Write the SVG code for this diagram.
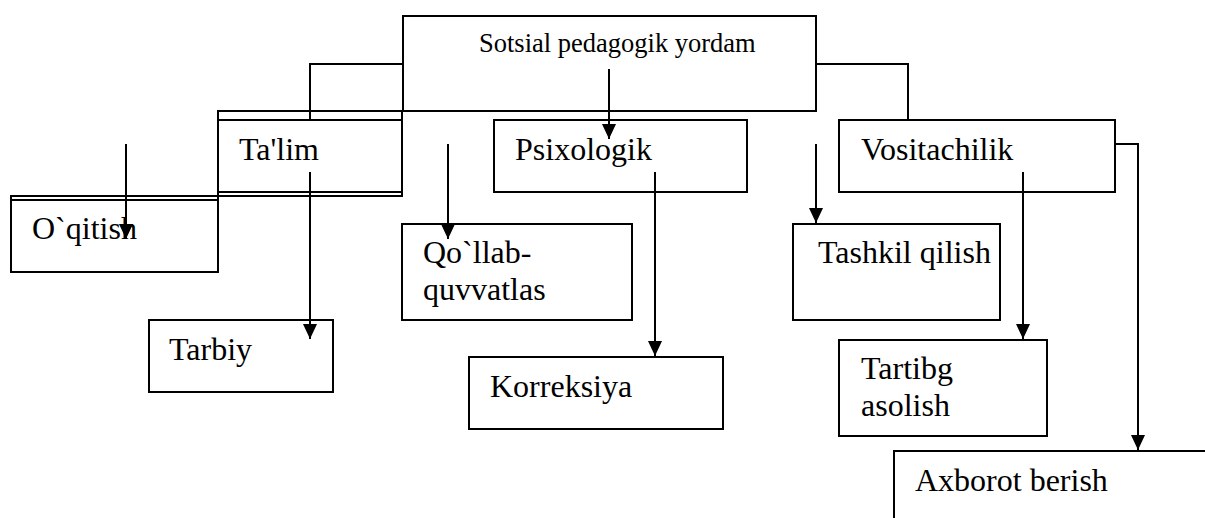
<svg xmlns="http://www.w3.org/2000/svg" width="1205" height="518" viewBox="0 0 1205 518">
<style>
.box{fill:#fff;stroke:#000;stroke-width:2}
.ln{fill:none;stroke:#000;stroke-width:2}
text{font-family:"Liberation Serif","Times New Roman",serif;fill:#000}
.lbl{font-size:32px}
.ttl{font-size:26.5px}
</style>
<defs>
<marker id="ah" markerUnits="userSpaceOnUse" markerWidth="16" markerHeight="16" refX="15" refY="7" orient="auto">
<path d="M0,0 L15,7 L0,14 z" fill="#000"/>
</marker>
</defs>
<rect width="1205" height="518" fill="#fff"/>
<g id="node-root">
<rect class="box" x="403" y="16" width="413" height="95"/>
<text class="ttl" font-family="Liberation Serif, serif" x="479" y="52">Sotsial pedagogik yordam</text>
</g>
<g id="node-talim">
<rect class="box" x="218" y="111" width="184" height="85"/>
<rect class="ln" x="218" y="120" width="184" height="72"/>
<text class="lbl" font-family="Liberation Serif, serif" x="239" y="160">Ta'lim</text>
</g>
<g id="node-psixologik">
<rect class="box" x="494" y="120" width="253" height="72"/>
<text class="lbl" font-family="Liberation Serif, serif" x="515" y="160">Psixologik</text>
</g>
<g id="node-vositachilik">
<rect class="box" x="839" y="120" width="276" height="72"/>
<text class="lbl" font-family="Liberation Serif, serif" x="861" y="160">Vositachilik</text>
</g>
<g id="node-oqitish">
<rect class="box" x="11" y="196" width="207" height="76"/>
<line class="ln" x1="11" y1="200" x2="218" y2="200"/>
<text class="lbl" font-family="Liberation Serif, serif" x="32" y="239">O`qitish</text>
</g>
<g id="node-tarbiy">
<rect class="box" x="149" y="320" width="184" height="72"/>
<text class="lbl" font-family="Liberation Serif, serif" x="169" y="360">Tarbiy</text>
</g>
<g id="node-qollab">
<rect class="box" x="402" y="224" width="230" height="96"/>
<text class="lbl" font-family="Liberation Serif, serif" x="423" y="263">Qo`llab-</text>
<text class="lbl" font-family="Liberation Serif, serif" x="423" y="300">quvvatlas</text>
</g>
<g id="node-korreksiya">
<rect class="box" x="469" y="357" width="254" height="72"/>
<text class="lbl" font-family="Liberation Serif, serif" x="490" y="397">Korreksiya</text>
</g>
<g id="node-tashkil">
<rect class="box" x="793" y="224" width="207" height="96"/>
<text class="lbl" font-family="Liberation Serif, serif" x="818" y="263">Tashkil qilish</text>
</g>
<g id="node-tartibg">
<rect class="box" x="839" y="340" width="208" height="96"/>
<text class="lbl" font-family="Liberation Serif, serif" x="861" y="379">Tartibg</text>
<text class="lbl" font-family="Liberation Serif, serif" x="861" y="416">asolish</text>
</g>
<g id="node-axborot">
<path class="ln" d="M894,520 V451 H1207"/>
<text class="lbl" font-family="Liberation Serif, serif" x="915" y="491">Axborot berish</text>
</g>
<g id="connectors">
<path class="ln" d="M403,64 H310 V120"/>
<path class="ln" d="M816,64 H908 V120"/>
<path class="ln" d="M609,69 V139" marker-end="url(#ah)"/>
<path class="ln" d="M126,144 V239" marker-end="url(#ah)"/>
<path class="ln" d="M310,172 V339" marker-end="url(#ah)"/>
<path class="ln" d="M448,144 V239" marker-end="url(#ah)"/>
<path class="ln" d="M655,172 V356" marker-end="url(#ah)"/>
<path class="ln" d="M816,144 V223" marker-end="url(#ah)"/>
<path class="ln" d="M1023,172 V339" marker-end="url(#ah)"/>
<path class="ln" d="M1115,144 H1138 V450" marker-end="url(#ah)"/>
</g>
</svg>
